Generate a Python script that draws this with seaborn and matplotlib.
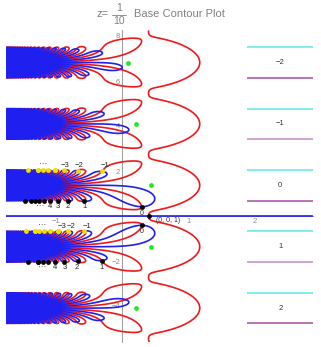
import numpy as np
import pandas as pd
import matplotlib
matplotlib.use("Agg")
import matplotlib.pyplot as plt
import seaborn as sns

sns.set_theme(style="white")
plt.rcParams["font.family"] = ["Liberation Sans", "DejaVu Sans"]

# ---------------- data ----------------
base_z = 1 / 10                      # base of the tower z^(z^w)
x_range = (-1.75, 2.87)
y_range = (-5.6, 8.25)

strip_labels = ["\u22122", "\u22121", "0", "1", "2"]
strip_centers = [6.82, 4.09, 1.364, -1.364, -4.09]
strip_half = 0.682
legend_span = (1.88, 2.87)
legend_label_x = 2.38
purple_cols = ["#a64ca6", "#c88ac8", "#a64ca6", "#c88ac8", "#a64ca6"]

green_x = [0.09, 0.21, 0.44, 0.43, 0.21]

# annotated zeros
yellow0_x = [-1.43, -1.35, -1.28, -1.20, -1.13, -1.05, -0.98, -0.89, -0.68, -0.30]
yellow0_y = [2.01] * 9 + [1.95]
black0_x = [-1.46, -1.38, -1.31, -1.25, -1.17, -1.08, -0.96, -0.81, -0.56]
black0_y = [0.755] * 9
yellow1_x = [-1.44, -1.37, -1.31, -1.25, -1.17, -1.08, -1.01, -0.93, -0.81, -0.56]
yellow1_y = [-0.67] * 10
black1_x = [-1.41, -1.34, -1.26, -1.19, -1.11, -1.01, -0.87, -0.68, -0.30]
black1_y = [-2.04] * 8 + [-1.97]
zero_x = [0.30, 0.30, 0.399]
zero_y = [0.36, -0.40, 0.0]

# label rows: (x positions, labels, y)
lab_top0 = ([-0.86, -0.64, -0.25], ["\u22123", "\u22122", "\u22121"], 2.25)
lab_bot0 = ([-1.08, -0.96, -0.81, -0.56], ["4", "3", "2", "1"], 0.40)
lab_top1 = ([-0.90, -0.77, -0.53], ["\u22123", "\u22122", "\u22121"], -0.47)
lab_bot1 = ([-1.01, -0.86, -0.68, -0.30], ["4", "3", "2", "1"], -2.31)
dots_pos = [(-1.19, 2.30), (-1.23, 0.40), (-1.20, -0.44), (-1.20, -2.31)]

RED = "#f01818"
BLUE = "#1f1ff0"
GRAY = "#9a9a9a"

Lz = np.log(base_z)


def F(w):
    return np.exp(Lz * np.exp(Lz * w)) - w


def dF(w):
    e1 = np.exp(Lz * w)
    return np.exp(Lz * e1) * Lz * Lz * e1 - 1


def refine(xl, yl):
    out_x, out_y = [], []
    for x0, y0 in zip(xl, yl):
        w = complex(x0, y0)
        w0 = w
        for _ in range(40):
            step = F(w) / dF(w)
            if abs(step) > 0.05:
                step = step / abs(step) * 0.05
            w = w - step
        if abs(F(w)) < 1e-6 and abs(w - w0) < 0.12:
            out_x.append(w.real); out_y.append(w.imag)
        else:
            out_x.append(x0); out_y.append(y0)
    return out_x, out_y


# ---------------- figure ----------------
W_PX, H_PX = 321, 347
fig = plt.figure(figsize=(W_PX / 100, H_PX / 100), dpi=100)
px_x0 = 122 - 66.5 * (0 - x_range[0])
px_x1 = 122 + 66.5 * x_range[1]
px_yt = 216 - 22.5 * y_range[1]
px_yb = 216 - 22.5 * y_range[0]
ax = fig.add_axes([px_x0 / W_PX, (H_PX - px_yb) / H_PX,
                   (px_x1 - px_x0) / W_PX, (px_yb - px_yt) / H_PX])
ax.set_xlim(*x_range)
ax.set_ylim(*y_range)

xs = np.linspace(x_range[0], x_range[1], 1500)
ys = np.linspace(y_range[0], y_range[1], 1601)
X, Y = np.meshgrid(xs, ys)
Fv = F(X + 1j * Y)

ax.contour(X, Y, Fv.real, levels=[0], colors=RED, linewidths=1.2, zorder=3)
ax.contour(X, Y, Fv.imag, levels=[0], colors=BLUE, linewidths=1.2, zorder=4)

# axes (Mathematica style)
for s in ["top", "right"]:
    ax.spines[s].set_visible(False)
ax.spines["left"].set_position(("data", 0))
ax.spines["bottom"].set_position(("data", 0))
for s in ["left", "bottom"]:
    ax.spines[s].set_color(GRAY)
    ax.spines[s].set_linewidth(0.7)
    ax.spines[s].set_zorder(1)
ax.set_xticks([-1, 1, 2])
ax.set_yticks([-4, -2, 2, 4, 6, 8])
ax.set_xticks(np.arange(-1.6, 2.81, 0.2), minor=True)
ax.set_yticks(np.arange(-5.5, 8.01, 0.5), minor=True)
ax.tick_params(axis="both", which="major", length=3, width=0.6, color=GRAY,
               labelsize=5.5, labelcolor="#8a8a8a", direction="in", pad=1.5)
ax.tick_params(axis="both", which="minor", length=1.6, width=0.5, color=GRAY,
               direction="in")
ax.set_xticklabels(["\u22121", "1", "2"])
ax.set_yticklabels(["\u22124", "\u22122", "2", "4", "6", "8"])
ax.grid(False)

# legend column for branches
for lab, yc, pc in zip(strip_labels, strip_centers, purple_cols):
    ax.hlines(yc + strip_half, *legend_span, color="#5fe6ea", lw=1.1, zorder=5)
    ax.hlines(yc - strip_half, *legend_span, color=pc, lw=1.1, zorder=5)
    ax.text(legend_label_x, yc, lab, ha="center", va="center", fontsize=5.5,
            color="#333333", zorder=6)

# dots
yx, yy = refine(yellow0_x + yellow1_x, yellow0_y + yellow1_y)
bx, by = refine(black0_x + black1_x + zero_x, black0_y + black1_y + zero_y)
dfg = pd.DataFrame({"x": green_x, "y": strip_centers})
sns.scatterplot(data=dfg, x="x", y="y", color="#22e822", s=12, linewidth=0, ax=ax, zorder=7)
dfy = pd.DataFrame({"x": yx, "y": yy})
sns.scatterplot(data=dfy, x="x", y="y", color="#f0e000", s=12, linewidth=0, ax=ax, zorder=7)
dfb = pd.DataFrame({"x": bx, "y": by})
sns.scatterplot(data=dfb, x="x", y="y", color="black", s=12, linewidth=0, ax=ax, zorder=7)

for xs_l, labs, yl in [lab_top0, lab_bot0, lab_top1, lab_bot1]:
    for xl, t in zip(xs_l, labs):
        ax.text(xl, yl, t, ha="center", va="center", fontsize=5.5, color="#222222", zorder=8)
for (xd, yd) in dots_pos:
    ax.text(xd, yd, "\u00b7\u00b7\u00b7", ha="center", va="center", fontsize=6, color="#222222", zorder=8)
ax.text(zero_x[0], zero_y[0] - 0.27, "0", ha="center", va="center", fontsize=5, color="#222222", zorder=8)
ax.text(zero_x[1], zero_y[1] - 0.3, "0", ha="center", va="center", fontsize=5, color="#222222", zorder=8)
ax.text(0.70, -0.22, "(0, 0, 1)", ha="center", va="center", fontsize=5, color="#333333", zorder=8)
ax.set_xlabel("")
ax.set_ylabel("")

# title: z = 1/10  Base Contour Plot
TC = "#808080"
fig.text(103 / W_PX, 1 - 14 / H_PX, "z=", ha="center", va="center", fontsize=8, color=TC)
fig.text(119 / W_PX, 1 - 8 / H_PX, "1", ha="center", va="center", fontsize=7.5, color=TC)
fig.text(119 / W_PX, 1 - 21 / H_PX, "10", ha="center", va="center", fontsize=7.5, color=TC)
fig.add_artist(plt.Line2D([112 / W_PX, 126 / W_PX], [1 - 14.5 / H_PX, 1 - 14.5 / H_PX],
                          color=TC, lw=0.6, transform=fig.transFigure))
fig.text(134 / W_PX, 1 - 14 / H_PX, "Base Contour Plot", ha="left", va="center",
         fontsize=8, color=TC)

fig.savefig("out.png", dpi=100)
